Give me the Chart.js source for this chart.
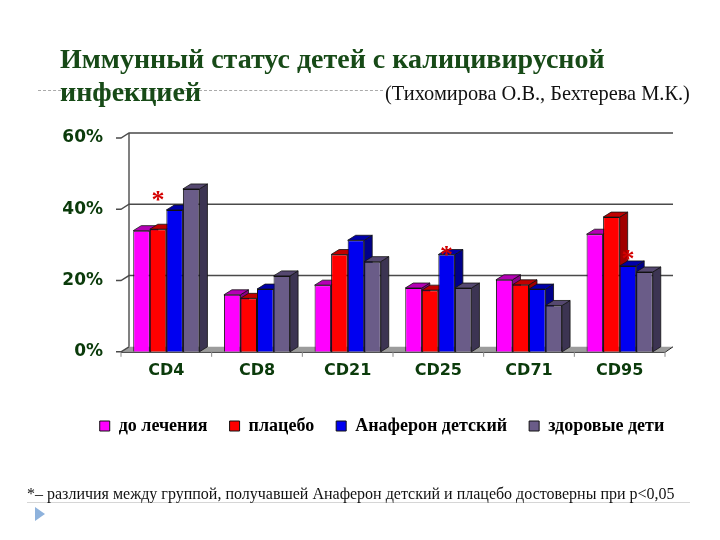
<!DOCTYPE html>
<html>
<head>
<meta charset="utf-8">
<script src="https://cdn.jsdelivr.net/npm/chart.js@4/dist/chart.umd.min.js"></script>
<style>
  body { margin: 0; background: #fff; }
  #wrap { position: relative; width: 720px; height: 540px; overflow: hidden; }
  #wrap canvas { position: absolute; left: 0; top: 0; }
  .txt { position: absolute; white-space: nowrap; font-family: "Liberation Serif", "Times New Roman", serif; }
  #title { left: 60px; top: 42px; font-size: 28px; line-height: 33px; font-weight: bold; color: #174a17; }
  #authors { left: 385px; top: 82px; font-size: 20.4px; line-height: 22px; color: #111; }
  #note { left: 27px; top: 485px; font-size: 16px; line-height: 18px; color: #111; }
  #titleLine { position: absolute; left: 38px; top: 90px; width: 345px; border-top: 1px dashed #aaa; }
  #noteLine { position: absolute; left: 27px; top: 502px; width: 663px; border-top: 1px solid #d6d6d6; }
  #bullet { position: absolute; left: 35px; top: 507px; width: 0; height: 0;
            border-left: 10px solid #8eb2dc; border-top: 7px solid transparent; border-bottom: 7px solid transparent; }
</style>
</head>
<body>
<div id="wrap">
  <div id="titleLine"></div>
  <div id="noteLine"></div>
  <canvas id="chart" width="720" height="540"></canvas>
  <div class="txt" id="title">Иммунный статус детей с калицивирусной<br>инфекцией</div>
  <div class="txt" id="authors">(Тихомирова О.В., Бехтерева М.К.)</div>
  <div class="txt" id="note">*– различия между группой, получавшей Анаферон детский и плацебо достоверны при р&lt;0,05</div>
  <div id="bullet"></div>
</div>
<script>
// data (percent of cells)
const markers = ['CD4', 'CD8', 'CD21', 'CD25', 'CD71', 'CD95'];
const beforeTreatment = [34, 16, 18.7, 17.9, 20.2, 33];
const placebo = [34.4, 15, 27.3, 17.3, 18.8, 37.8];
const anaferon = [39.8, 17.6, 31.3, 27.3, 17.6, 24.1];
const healthy = [45.7, 21.3, 25.3, 17.9, 13, 22.4];
const seriesNames = ['до лечения', 'плацебо', 'Анаферон детский', 'здоровые дети'];
const yTicks = [0, 20, 40, 60];

// significance stars: category, series index, level
const starCategory = ['CD4', 'CD25', 'CD95'];
const starSeries = [1, 2, 2];
const starLevel = [44, 28.6, 27.3];

const fronts = ['#ff00ff', '#ff0000', '#0000f0', '#6a5c88'];
const tops = ['#b400b4', '#c00000', '#0000a8', '#554870'];
const sides = ['#8a008a', '#a00000', '#00008a', '#3c3452'];
const dx = 8, dy = 5;
const tickColor = '#0b3b0b';

// walls, floor, grid and the top/side faces of each bar
const box3d = {
  id: 'box3d',
  afterLayout(chart) {
    // legend sits a little right of centre on the slide
    chart.legend.left += 24;
    chart.legend.right += 24;
  },
  beforeDatasetsDraw(chart) {
    const { ctx, chartArea: a, scales: { x, y } } = chart;
    const base = y.getPixelForValue(0);
    ctx.save();
    // floor
    ctx.fillStyle = '#9c9c9c';
    ctx.beginPath();
    ctx.moveTo(a.left, base);
    ctx.lineTo(a.right, base);
    ctx.lineTo(a.right + dx, base - dy);
    ctx.lineTo(a.left + dx, base - dy);
    ctx.closePath();
    ctx.fill();
    // grid on back wall
    ctx.strokeStyle = '#4a4a4a';
    ctx.lineWidth = 1.4;
    yTicks.forEach(v => {
      const py = y.getPixelForValue(v);
      ctx.beginPath();
      ctx.moveTo(a.left - 5, py);
      ctx.lineTo(a.left, py);
      ctx.lineTo(a.left + dx, py - dy);
      if (v > 0) ctx.lineTo(a.right + dx, py - dy);
      ctx.stroke();
    });
    // left wall edge
    ctx.beginPath();
    ctx.moveTo(a.left + dx, base - dy);
    ctx.lineTo(a.left + dx, y.getPixelForValue(60) - dy);
    ctx.stroke();
    // front edge of floor and category ticks
    ctx.strokeStyle = '#222';
    ctx.lineWidth = 1;
    ctx.beginPath();
    ctx.moveTo(a.left, base + 0.5);
    ctx.lineTo(a.right, base + 0.5);
    ctx.lineTo(a.right + dx, base - dy);
    ctx.stroke();
    ctx.strokeStyle = '#888';
    for (let i = 0; i <= markers.length; i++) {
      const px = a.left + (a.right - a.left) * i / markers.length;
      ctx.beginPath();
      ctx.moveTo(px, base);
      ctx.lineTo(px, base + 5);
      ctx.stroke();
    }
    // bar tops and sides, left to right
    ctx.strokeStyle = '#111';
    ctx.lineWidth = 0.8;
    for (let c = 0; c < markers.length; c++) {
      chart.data.datasets.forEach((ds, s) => {
        const bar = chart.getDatasetMeta(s).data[c];
        const l = bar.x - bar.width / 2, r = bar.x + bar.width / 2, t = bar.y, b = bar.base;
        ctx.fillStyle = sides[s];
        ctx.beginPath();
        ctx.moveTo(r, t); ctx.lineTo(r + dx, t - dy); ctx.lineTo(r + dx, b - dy); ctx.lineTo(r, b);
        ctx.closePath(); ctx.fill(); ctx.stroke();
        ctx.fillStyle = tops[s];
        ctx.beginPath();
        ctx.moveTo(l, t); ctx.lineTo(l + dx, t - dy); ctx.lineTo(r + dx, t - dy); ctx.lineTo(r, t);
        ctx.closePath(); ctx.fill(); ctx.stroke();
      });
    }
    ctx.restore();
  },
  afterDatasetsDraw(chart) {
    const { ctx, scales: { y } } = chart;
    ctx.save();
    ctx.fillStyle = '#d40000';
    ctx.font = 'bold 26px "Liberation Serif"';
    ctx.textAlign = 'center';
    ctx.textBaseline = 'middle';
    starCategory.forEach((cat, i) => {
      const bar = chart.getDatasetMeta(starSeries[i]).data[markers.indexOf(cat)];
      ctx.fillText('*', bar.x, y.getPixelForValue(starLevel[i]) + 6);
    });
    ctx.restore();
  }
};

const seriesData = [beforeTreatment, placebo, anaferon, healthy];

new Chart(document.getElementById('chart'), {
  type: 'bar',
  data: {
    labels: markers,
    datasets: seriesData.map((d, i) => ({
      label: seriesNames[i],
      data: d,
      backgroundColor: fronts[i],
      borderColor: '#111',
      borderWidth: 1,
      barPercentage: 1,
      categoryPercentage: 0.73
    }))
  },
  options: {
    responsive: false,
    animation: false,
    layout: { padding: { top: 138, left: 51, right: 55, bottom: 95 } },
    scales: {
      x: {
        grid: { display: false, drawTicks: false },
        border: { display: false },
        ticks: { color: tickColor, padding: 9, font: { family: 'DejaVu Sans', weight: 'bold', size: 16 } },
        afterFit(scale) { scale.height += 6; }
      },
      y: {
        min: 0,
        max: 60,
        grid: { display: false, drawTicks: false },
        border: { display: false },
        afterBuildTicks(scale) { scale.ticks = yTicks.map(v => ({ value: v })); },
        afterFit(scale) { scale.width = 70; },
        ticks: {
          color: tickColor,
          padding: 18,
          font: { family: 'DejaVu Sans', weight: 'bold', size: 17 },
          callback: v => v + '%'
        }
      }
    },
    plugins: {
      legend: {
        position: 'bottom',
        labels: {
          boxWidth: 10,
          boxHeight: 10,
          padding: 22,
          color: '#000',
          font: { family: 'Liberation Serif', weight: 'bold', size: 18 }
        }
      },
      tooltip: { enabled: false }
    }
  },
  plugins: [box3d]
});
</script>
</body>
</html>
